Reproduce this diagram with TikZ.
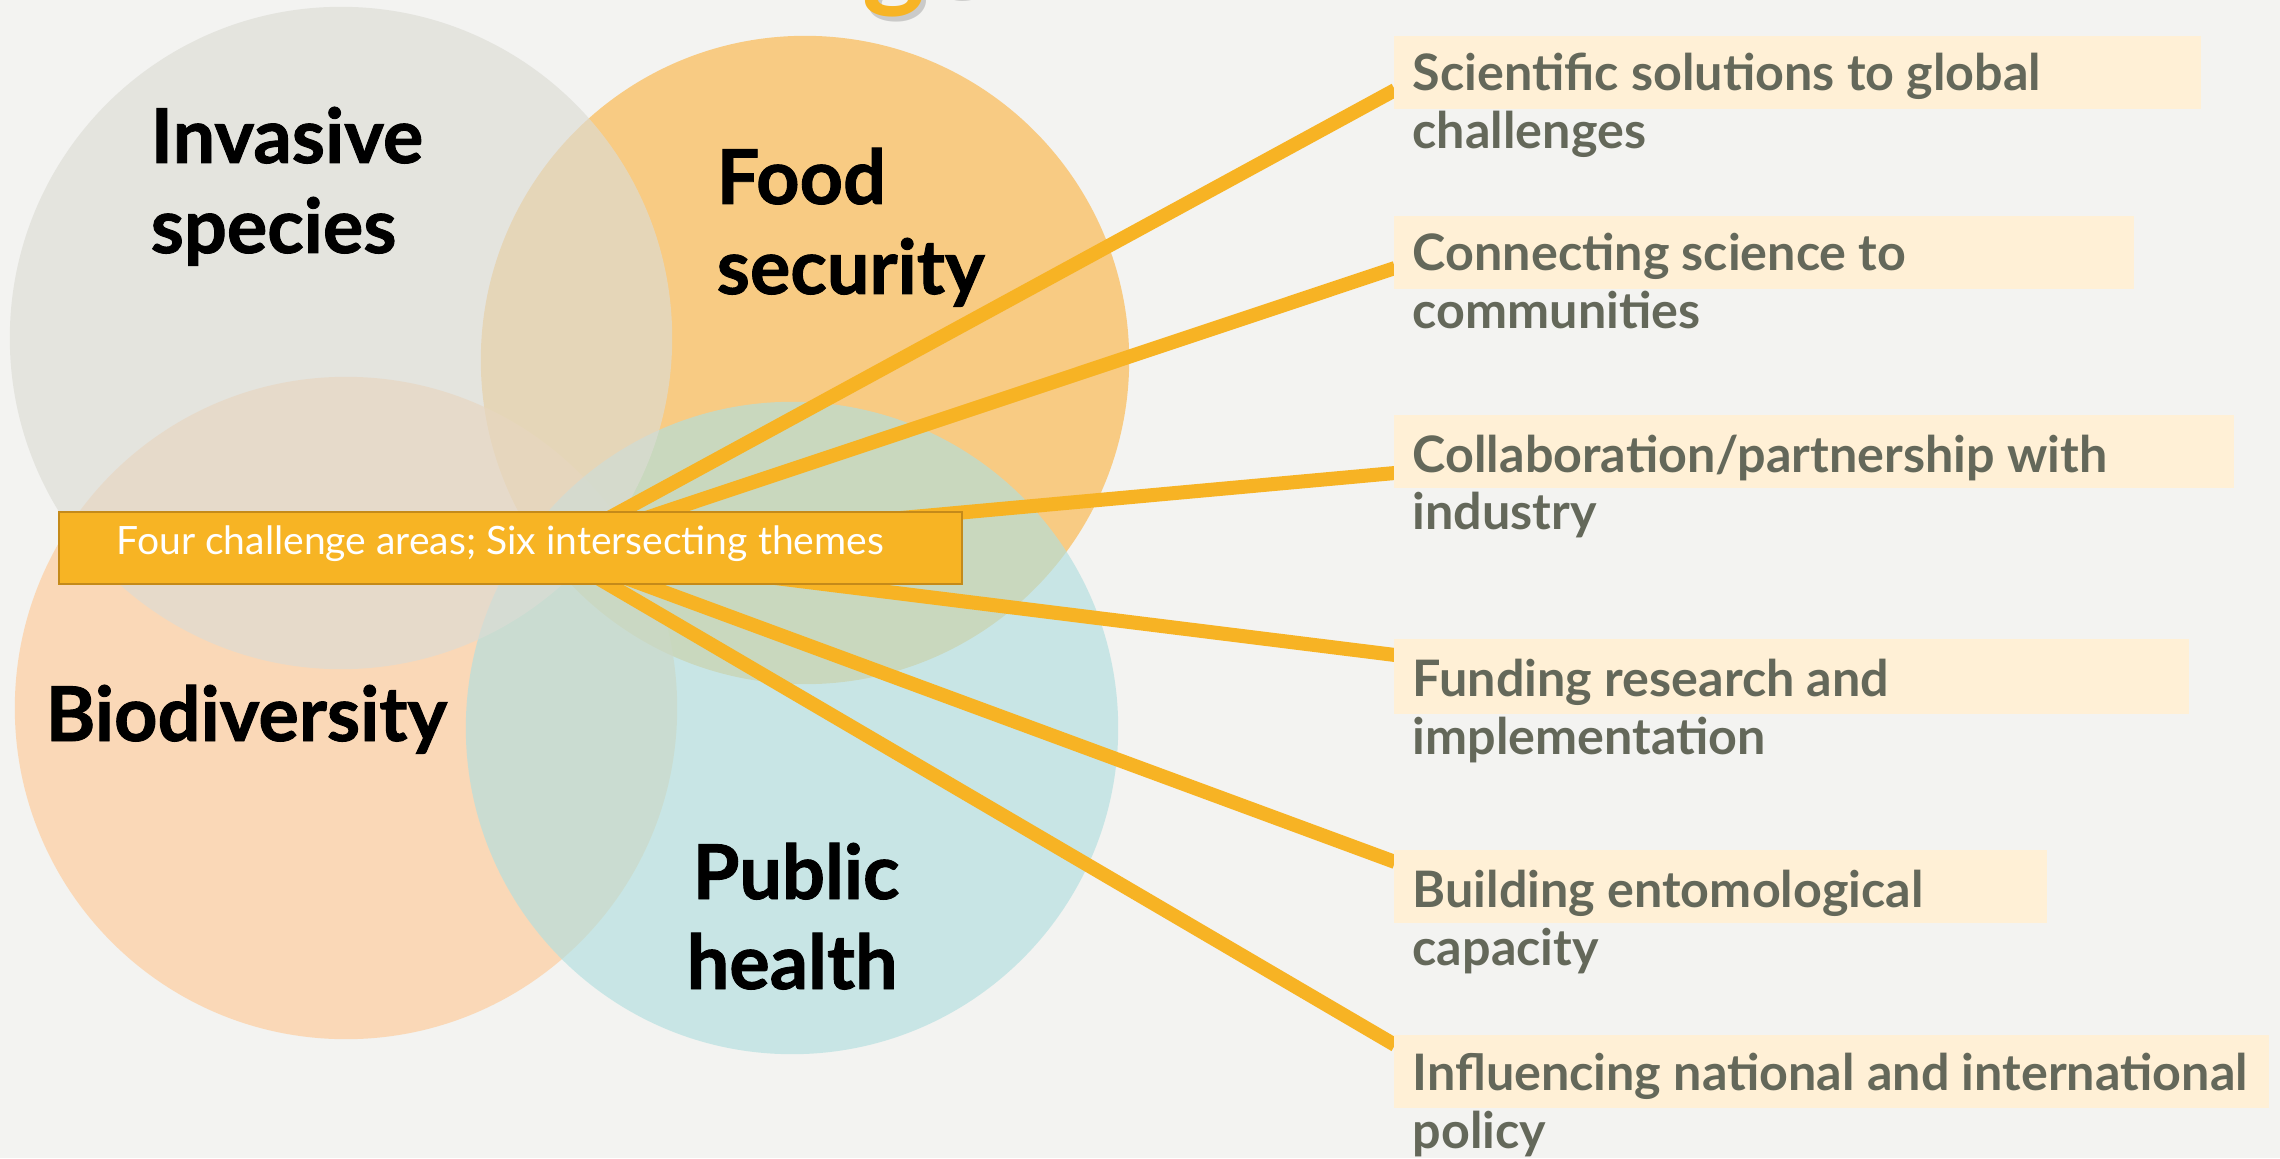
\documentclass[tikz,border=0pt]{standalone}
\usepackage{fontspec}
\setmainfont{Lato}
\newfontfamily\heavyfont[FakeBold=1.2]{Lato Bold}
\usetikzlibrary{positioning}
\definecolor{bgc}{RGB}{243,243,241}
\definecolor{cgrey}{RGB}{220,220,213}
\definecolor{corange}{RGB}{252,183,73}
\definecolor{cpeach}{RGB}{254,203,153}
\definecolor{cteal}{RGB}{177,223,223}
\definecolor{lineor}{RGB}{247,179,36}
\definecolor{boxor}{RGB}{247,180,36}
\definecolor{boxedge}{RGB}{196,138,26}
\definecolor{cream}{RGB}{255,240,214}
\definecolor{txtgrey}{RGB}{100,104,90}
\tikzset{
  venn/.style={circle, inner sep=0pt, minimum size=#1, fill opacity=0.65},
  clabel/.style={anchor=base west, inner sep=0pt, text=black, font=\fontsize{21.5}{26}\selectfont\heavyfont},
  ray/.style={draw=lineor, line width=0.14cm},
  creambox/.style={fill=cream, inner sep=0pt, anchor=north west},
  rtext/.style={anchor=base west, inner sep=0pt, text=txtgrey, font=\fontsize{14.3}{17}\selectfont\bfseries},
}
\begin{document}
\begin{tikzpicture}[x=0.01cm,y=-0.01cm]
\path[use as bounding box, fill=bgc] (0,0) rectangle (2280,1158);
\clip (0,0) rectangle (2280,1158);
% partial title glyphs
\node[anchor=base west, inner sep=0pt, text=gray, opacity=0.35, font=\fontsize{34}{40}\selectfont\bfseries] (titleshadow) at (866,1) {ge};
\node[anchor=base west, inner sep=0pt, text=boxor, font=\fontsize{34}{40}\selectfont\bfseries] (title) at (862,-4) {ge};
% circles
\node[venn=6.48cm, fill=corange] (orange) at (805,360) {};
\node[venn=6.62cm, fill=cpeach] (peach) at (346,708) {};
\node[venn=6.52cm, fill=cteal] (teal) at (792,728) {};
\node[venn=6.62cm, fill=cgrey] (grey) at (341,338) {};
% circle labels
\node[clabel] (inv1) at (150,163) {Invasive};
\node[clabel] (inv2) at (150,253) {species};
\node[clabel] (food1) at (716,204) {Food};
\node[clabel] (food2) at (716,294) {security};
\node[clabel] (bio) at (45,741) {Biodiversity};
\node[clabel] (pub1) at (692,899) {Public};
\node[clabel] (pub2) at (686,989) {health};
% rays
\coordinate (hub) at (550,550);
\coordinate (t1) at (1395,90);
\coordinate (t2) at (1395,268);
\coordinate (t3) at (1395,473);
\coordinate (t4) at (1395,655);
\coordinate (t5) at (1395,862);
\coordinate (t6) at (1395,1045);
\foreach \t in {t1,t2,t3,t4,t5,t6} \draw[ray] (hub) -- (\t);
% central box
\node[draw=boxedge, line width=0.02cm, fill=boxor, inner sep=0pt, minimum width=9.02cm, minimum height=0.72cm, anchor=north west] (centre) at (58,511) {};
\node[anchor=base west, inner sep=0pt, text=white, font=\fontsize{11.1}{14}\selectfont] (centretext) at (116,554) {Four challenge areas; Six intersecting themes};
% cream boxes
\node[creambox, minimum width=8.07cm, minimum height=0.73cm] (b1) at (1393,35) {};
\node[creambox, minimum width=7.40cm, minimum height=0.73cm] (b2) at (1393,215) {};
\node[creambox, minimum width=8.40cm, minimum height=0.73cm] (b3) at (1393,414) {};
\node[creambox, minimum width=7.95cm, minimum height=0.75cm] (b4) at (1393,638) {};
\node[creambox, minimum width=6.53cm, minimum height=0.73cm] (b5) at (1393,849) {};
\node[creambox, minimum width=8.75cm, minimum height=0.73cm] (b6) at (1393,1034) {};
% right texts
\node[rtext] (r1a) at (1412,91) {Scientific solutions to global};
\node[rtext] (r1b) at (1412,149) {challenges};
\node[rtext] (r2a) at (1412,271) {Connecting science to};
\node[rtext] (r2b) at (1412,329) {communities};
\node[rtext] (r3a) at (1412,472) {Collaboration/partnership with};
\node[rtext] (r3b) at (1412,529) {industry};
\node[rtext] (r4a) at (1412,696) {Funding research and};
\node[rtext] (r4b) at (1412,754) {implementation};
\node[rtext] (r5a) at (1412,907) {Building entomological};
\node[rtext] (r5b) at (1412,965) {capacity};
\node[rtext] (r6a) at (1412,1090) {Influencing national and international};
\node[rtext] (r6b) at (1412,1148) {policy};
\end{tikzpicture}
\end{document}
